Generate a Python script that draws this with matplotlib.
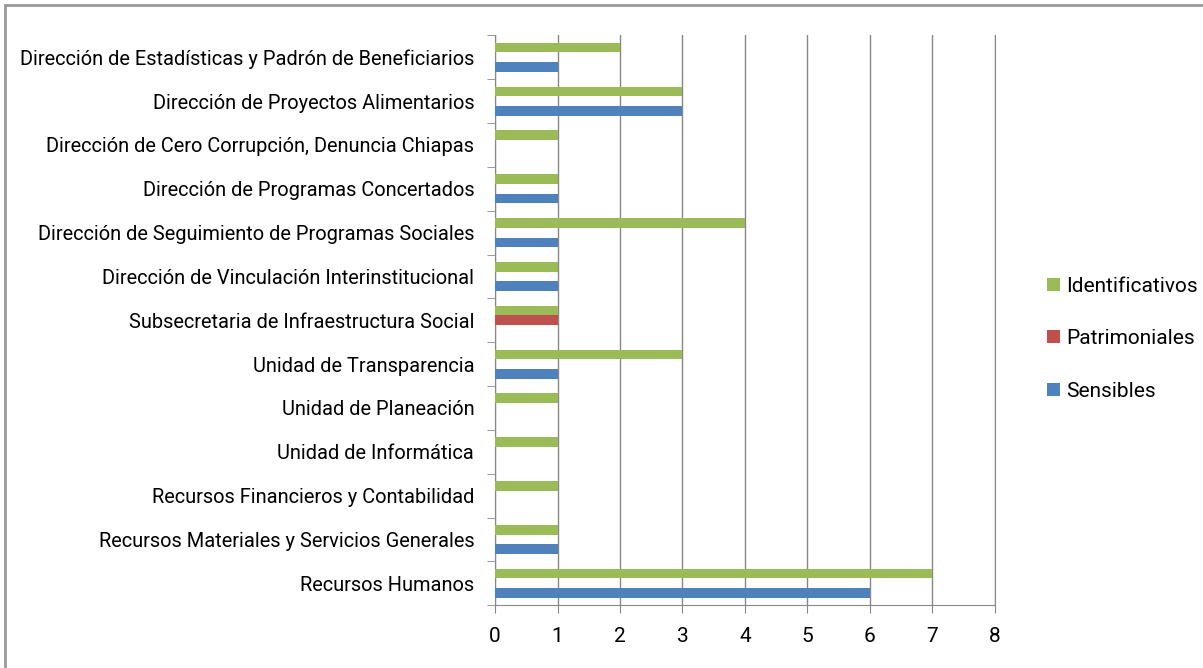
import numpy as np
import matplotlib.pyplot as plt
from matplotlib.patches import Rectangle

# Categories from bottom to top
areas = [
    "Recursos Humanos",
    "Recursos Materiales y Servicios Generales",
    "Recursos Financieros y Contabilidad",
    "Unidad de Informática",
    "Unidad de Planeación",
    "Unidad de Transparencia",
    "Subsecretaria de Infraestructura Social",
    "Dirección de Vinculación Interinstitucional",
    "Dirección de Seguimiento de Programas Sociales",
    "Dirección de Programas Concertados",
    "Dirección de Cero Corrupción, Denuncia Chiapas",
    "Dirección de Proyectos Alimentarios",
    "Dirección de Estadísticas y Padrón de Beneficiarios",
]
sensibles = [6, 1, 0, 0, 0, 1, 0, 1, 1, 1, 0, 3, 1]
patrimoniales = [0, 0, 0, 0, 0, 0, 1, 0, 0, 0, 0, 0, 0]
identificativos = [7, 1, 1, 1, 1, 3, 1, 1, 4, 1, 1, 3, 2]

plt.rcParams['font.family'] = ['Roboto', 'DejaVu Sans']

fig = plt.figure(figsize=(12.03, 6.68), dpi=100)
ax = fig.add_axes([0.4115, 0.094, 0.4155, 0.853])

ypos = np.arange(len(areas))
h = 0.222
ax.barh(ypos - h, sensibles, height=h, color="#4F81BD", label="Sensibles", zorder=3)
ax.barh(ypos, patrimoniales, height=h, color="#C0504D", label="Patrimoniales", zorder=3)
ax.barh(ypos + h, identificativos, height=h, color="#9BBB59", label="Identificativos", zorder=3)

ax.set_xlim(0, 8)
ax.set_ylim(-0.5, len(areas) - 0.5)
ax.set_xticks(range(9))
ax.tick_params(axis='x', labelsize=15, length=6, color='#888888', pad=10)

# category labels centred, ticks on the boundaries
ax.set_yticks(ypos)
ax.set_yticklabels(areas, fontsize=14.4)
ax.tick_params(axis='y', length=0, pad=15)
ax.set_yticks(np.arange(-0.5, len(areas), 1), minor=True)
ax.tick_params(axis='y', which='minor', length=6, color='#888888')

ax.grid(axis='x', color='#888888', linewidth=1, zorder=0)
ax.spines['top'].set_visible(False)
for s in ['left', 'bottom', 'right']:
    ax.spines[s].set_color('#888888')

handles, labels = ax.get_legend_handles_labels()
fig.legend(handles[::-1], labels[::-1], loc='center left',
           bbox_to_anchor=(0.855, 0.493), frameon=False, fontsize=15,
           handlelength=0.6, handleheight=0.6, handletextpad=0.3,
           labelspacing=1.6)

# outer frame of the chart
fig.patches.append(Rectangle((0.004, -0.01), 1.0, 1.002, transform=fig.transFigure,
                             fill=False, edgecolor='#999999', linewidth=2))

fig.savefig("out.png", dpi=100)
